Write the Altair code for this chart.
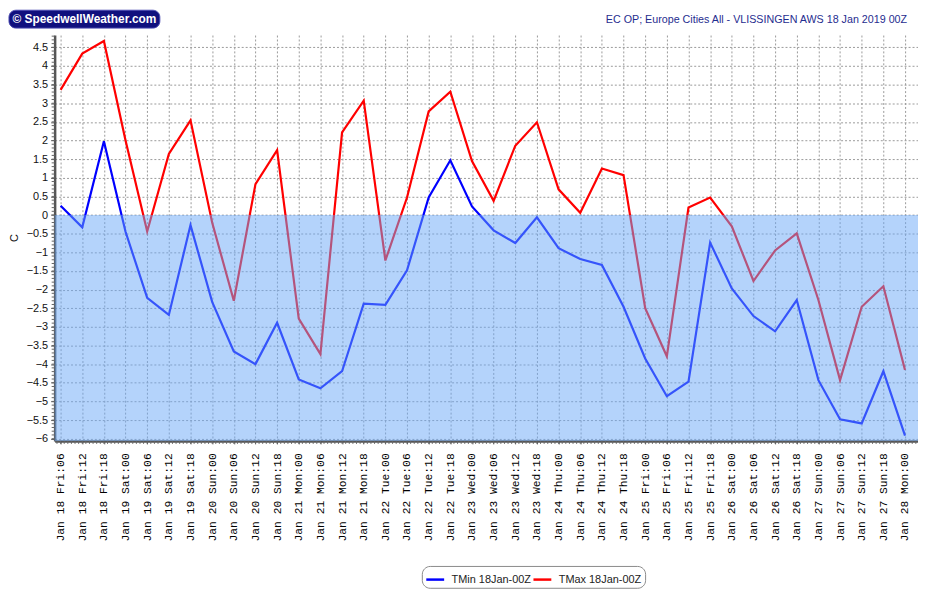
import altair as alt
import pandas as pd

times = [
    "Jan 18 Fri:06", "Jan 18 Fri:12", "Jan 18 Fri:18",
    "Jan 19 Sat:00", "Jan 19 Sat:06", "Jan 19 Sat:12", "Jan 19 Sat:18",
    "Jan 20 Sun:00", "Jan 20 Sun:06", "Jan 20 Sun:12", "Jan 20 Sun:18",
    "Jan 21 Mon:00", "Jan 21 Mon:06", "Jan 21 Mon:12", "Jan 21 Mon:18",
    "Jan 22 Tue:00", "Jan 22 Tue:06", "Jan 22 Tue:12", "Jan 22 Tue:18",
    "Jan 23 Wed:00", "Jan 23 Wed:06", "Jan 23 Wed:12", "Jan 23 Wed:18",
    "Jan 24 Thu:00", "Jan 24 Thu:06", "Jan 24 Thu:12", "Jan 24 Thu:18",
    "Jan 25 Fri:00", "Jan 25 Fri:06", "Jan 25 Fri:12", "Jan 25 Fri:18",
    "Jan 26 Sat:00", "Jan 26 Sat:06", "Jan 26 Sat:12", "Jan 26 Sat:18",
    "Jan 27 Sun:00", "Jan 27 Sun:06", "Jan 27 Sun:12", "Jan 27 Sun:18",
    "Jan 28 Mon:00",
]

tmin = [0.25, -0.33, 1.98, -0.45, -2.22, -2.68, -0.27, -2.33, -3.66, -4.00,
        -2.89, -4.41, -4.65, -4.19, -2.38, -2.41, -1.48, 0.47, 1.47, 0.23,
        -0.41, -0.75, -0.06, -0.89, -1.18, -1.34, -2.46, -3.85, -4.86, -4.47,
        -0.74, -1.97, -2.71, -3.12, -2.28, -4.43, -5.48, -5.59, -4.19, -5.92]

tmax = [3.36, 4.33, 4.67, 2.00, -0.44, 1.64, 2.54, -0.20, -2.30, 0.83,
        1.74, -2.78, -3.73, 2.22, 3.07, -1.22, 0.47, 2.78, 3.31, 1.45,
        0.38, 1.86, 2.49, 0.69, 0.06, 1.25, 1.07, -2.50, -3.79, 0.20,
        0.47, -0.30, -1.77, -0.95, -0.49, -2.28, -4.43, -2.46, -1.91, -4.16]

series_names = ["TMin 18Jan-00Z", "TMax 18Jan-00Z"]
series_colors = ["#0000ff", "#ff0000"]
y_ticks = [-6 + 0.5 * i for i in range(22)]
title_text = "EC OP; Europe Cities All - VLISSINGEN AWS 18 Jan 2019 00Z"
logo_text = "\u00a9 SpeedwellWeather.com"
y_title = "C"

rows = []
for i, t in enumerate(times):
    rows.append({"idx": i, "label": t, "series": series_names[0], "value": tmin[i]})
    rows.append({"idx": i, "label": t, "series": series_names[1], "value": tmax[i]})
df = pd.DataFrame(rows)

W, H = 870, 409
Y_MIN, Y_MAX = -6.06, 4.83
X_MIN, X_MAX = -0.275, 39.6

x_scale = alt.Scale(domain=[X_MIN, X_MAX], nice=False, zero=False)
y_scale = alt.Scale(domain=[Y_MIN, Y_MAX], nice=False, zero=False)

label_expr = "[" + ",".join("'" + t + "'" for t in times) + "][round(datum.value)]"

x_axis = alt.Axis(
    values=list(range(len(times))), labelExpr=label_expr, labelAngle=270,
    labelFont="Liberation Mono", labelFontSize=11.4, labelColor="#000",
    labelFlush=False, labelOverlap=False, labelBound=False, labelPadding=9,
    tickSize=3, tickColor="#555", title=None,
    grid=True, gridDash=[2, 2], gridColor="#9a9a9a", gridWidth=1,
    domainColor="#555", domainWidth=2.5,
)
y_axis = alt.Axis(
    values=y_ticks, format=".1~f", title=y_title,
    labelFont="Liberation Sans", labelFontSize=11, labelColor="#111",
    labelFlush=False, labelOverlap=False, labelPadding=3,
    tickSize=4, tickColor="#555",
    titleFont="Liberation Sans", titleFontSize=11, titleFontWeight="normal",
    titleColor="#111", titleX=-35, titleY=204,
    grid=True, gridDash=[2, 2], gridColor="#9a9a9a", gridWidth=1,
    domainColor="#555", domainWidth=2.5,
)

lines = alt.Chart(df).mark_line(strokeWidth=2.2).encode(
    x=alt.X("idx:Q", scale=x_scale, axis=x_axis),
    y=alt.Y("value:Q", scale=y_scale, axis=y_axis),
    color=alt.Color(
        "series:N",
        scale=alt.Scale(domain=series_names, range=series_colors),
        sort=series_names,
        legend=alt.Legend(
            orient="none", legendX=370, legendY=535, direction="horizontal",
            title=None, symbolType="stroke", symbolStrokeWidth=2.5,
            symbolSize=324, labelFont="Liberation Sans", labelFontSize=11,
            labelColor="#222", labelOffset=6, columnPadding=-7,
            strokeColor="#8a8a8a", fillColor="white", cornerRadius=8,
            padding=3,
        ),
    ),
    detail="series:N",
)

shade_df = pd.DataFrame({"top": [0.0], "bottom": [Y_MIN]})
shade = alt.Chart(shade_df).mark_rect(color="#6aa8f8", opacity=0.5).encode(
    y=alt.Y("top:Q", scale=y_scale, axis=y_axis),
    y2="bottom:Q",
    x=alt.value(0),
    x2=alt.value(W),
)

y_minor = pd.DataFrame({"v": [round(-6 + 0.1 * k, 1) for k in range(109)]})
y_minor_ticks = alt.Chart(y_minor).mark_rule(color="#666", strokeWidth=1).encode(
    y=alt.Y("v:Q", scale=y_scale, axis=y_axis),
    x=alt.value(-3),
    x2=alt.value(0),
)
x_minor = pd.DataFrame({"v": [k / 6 for k in range(-1, 39 * 6 + 4)]})
x_minor_ticks = alt.Chart(x_minor).mark_rule(color="#666", strokeWidth=1).encode(
    x=alt.X("v:Q", scale=x_scale, axis=x_axis),
    y=alt.value(H),
    y2=alt.value(H + 3),
)

logo_df = pd.DataFrame({"t": [logo_text]})
logo_box = alt.Chart(logo_df).mark_rect(
    color="#10107e", cornerRadius=7, stroke="#4a4ab0", strokeWidth=1
).encode(
    x=alt.value(-46), x2=alt.value(106), y=alt.value(-25), y2=alt.value(-7)
)
logo_txt = alt.Chart(logo_df).mark_text(
    color="white", font="Liberation Sans", fontSize=12, fontWeight="bold",
    align="center", baseline="middle"
).encode(x=alt.value(30), y=alt.value(-16), text="t:N")

title_df = pd.DataFrame({"t": [title_text]})
title_txt = alt.Chart(title_df).mark_text(
    color="#1f2d8f", font="Liberation Sans", fontSize=10.8,
    align="right", baseline="alphabetic"
).encode(x=alt.value(W - 11), y=alt.value(-12), text="t:N")

chart = alt.layer(
    lines, shade, y_minor_ticks, x_minor_ticks, logo_box, logo_txt, title_txt
).properties(
    width=W, height=H,
    autosize=alt.AutoSizeParams(type="none"),
    padding={"left": 47, "top": 25, "right": 0, "bottom": 148},
).configure_view(stroke=None)

chart.save("out.html", embed_options={"renderer": "svg", "actions": False})
